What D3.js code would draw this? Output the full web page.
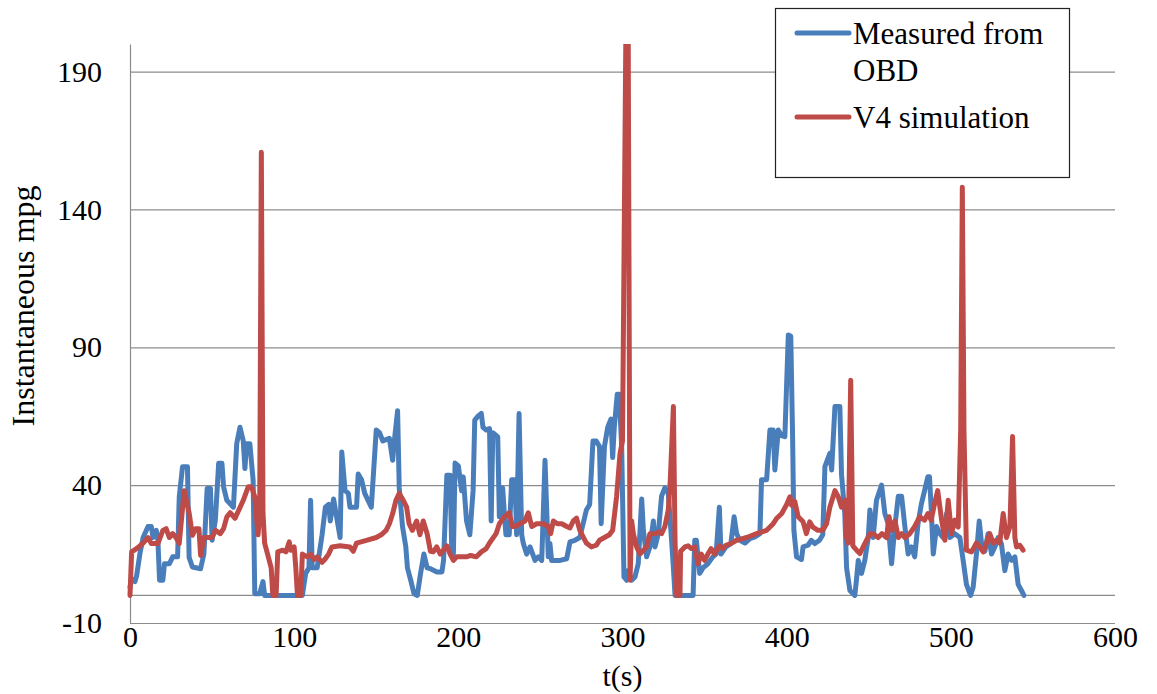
<!DOCTYPE html>
<html>
<head>
<meta charset="utf-8">
<script src="https://cdn.jsdelivr.net/npm/d3@7"></script>
<style>
  body { margin: 0; background: #fff; }
  svg text { font-family: "Liberation Serif", Tinos, "Times New Roman", "DejaVu Serif", serif; fill: #000; }
</style>
</head>
<body>
<div id="chart"></div>
<script>
// instantaneous mpg: OBD measurement vs V4 simulation

const obdTime = [0, 1, 3, 4, 6, 8, 11, 13, 14, 16, 17, 18, 20, 21, 24, 26, 29, 30, 32, 35, 36, 38, 43, 45, 47, 49, 50, 52, 54, 56, 57, 59, 63, 65, 67, 69, 70, 71, 73, 75, 76, 79, 81, 82, 105, 107, 109, 110, 111, 114, 117, 119, 121, 122, 124, 126, 128, 129, 131, 133, 134, 138, 139, 141, 143, 145, 147, 150, 152, 154, 156, 158, 160, 161, 163, 164, 166, 168, 169, 171, 173, 175, 177, 179, 181, 183, 187, 190, 191, 193, 195, 196, 197, 198, 200, 202, 203, 205, 207, 209, 210, 212, 214, 215, 217, 219, 220, 221, 223, 224, 225, 227, 228, 229, 231, 232.5, 234.5, 235.5, 237, 238.6, 239.6, 241.6, 243.7, 246.7, 248.7, 250.8, 252.8, 254.8, 255.8, 256.8, 262, 266, 268, 271, 274, 276, 278, 280, 282, 284, 286, 287, 289, 291, 293, 294, 295, 296.8, 298, 299.5, 300.9, 302.5, 303.5, 305.6, 307.6, 309.6, 311.7, 312.7, 314.7, 316.7, 318.8, 319.8, 321.8, 323.8, 325.8, 327.9, 329.9, 331, 332, 343, 344, 345, 347, 349, 352, 355, 357, 359, 360, 363, 366, 368, 369.5, 371.5, 374.6, 377.6, 380.7, 383.7, 384.7, 387.8, 389.8, 391.8, 392.8, 394.9, 396.9, 398.9, 401, 402.5, 403.6, 404.4, 406, 409, 410, 413, 415, 417, 420, 422, 423.3, 426.3, 427.4, 429.4, 432.4, 433.4, 435.4, 436.5, 438.5, 441.5, 442.5, 443.6, 445.6, 447.6, 449.7, 450.7, 452.7, 454.7, 457.8, 459.8, 461.8, 463.9, 465.9, 468, 470, 472, 474, 476, 478, 480, 482, 484, 486, 487, 488, 489.3, 491.3, 493.3, 495.3, 497.4, 499.4, 502.4, 505.5, 507.5, 509.5, 512, 513.6, 515.6, 517.3, 518.7, 520.7, 522.7, 524.8, 526.8, 528.8, 530.8, 532.9, 534.9, 537, 539, 541, 543, 544.5];
const obdMpg = [3, 6, 5, 7, 15, 21, 25, 25, 21, 23.6, 20, 5.5, 5.5, 11.5, 11.5, 14, 14, 35.8, 46.7, 46.7, 13.8, 10.3, 9.7, 15, 38.8, 38.8, 20, 27.3, 47.9, 47.9, 39.4, 34.5, 32, 55, 61, 56, 46, 55, 55, 41.8, 0.6, 0.6, 5, 0, 0, 8, 10, 34.5, 10, 10, 22, 32, 33, 27, 35, 28, 21, 52, 38, 37, 32, 32, 44, 42, 37, 34.5, 32, 60, 59, 56, 56.5, 57, 49, 56, 67, 39, 25, 17.6, 10, 5.5, 0.6, 0, 8, 15, 10, 9.7, 8.5, 8.5, 12.7, 43.6, 43.6, 16, 15, 48, 47, 38, 43, 27, 22, 38, 63.6, 65, 66, 61, 60, 60.5, 27, 59, 58, 57.5, 28.5, 39, 30, 22, 22, 42, 42, 22, 66, 22, 18.8, 15, 17.6, 12.7, 14, 12.7, 49, 14, 18.8, 12.7, 12.7, 13.3, 19.4, 20, 21, 26, 31, 33, 56, 56, 54, 26, 54, 61, 64, 50, 61, 73, 73, 54, 6.7, 5.5, 9, 5.5, 6.7, 11.5, 35, 23.6, 14, 17.6, 27, 17.6, 22.4, 36, 39, 37, 20, 10, 0, 0, 20, 20, 8, 10, 11.5, 14, 15, 32, 15, 17.6, 18.8, 28.5, 22.4, 20, 19, 20.6, 21.2, 22.4, 42, 42, 60, 60, 45.5, 60, 58, 57.6, 94.5, 94, 58, 23.6, 14, 13, 17.6, 18.2, 20, 18.8, 20, 22, 46.7, 51.5, 45.5, 68.5, 68.5, 44, 29.7, 10, 1.8, 0, 5.5, 12.7, 8, 12.7, 21, 31, 21, 34.5, 40, 29.7, 26, 11.5, 25, 36, 36, 25, 15, 17.6, 14, 26, 33, 38, 43, 43, 32, 15, 25, 22.4, 21, 29.7, 21, 22.4, 21, 12.7, 4, 0, 3, 15, 27, 18.8, 16, 22.4, 15, 17.6, 21, 18.8, 9, 15, 12.7, 14, 4, 1.8, 0];

const simTime = [0, 1, 4, 8, 11, 13, 17, 20, 22, 24, 26, 28, 30, 33, 36, 38, 40, 42, 43, 45, 50, 52, 55, 57, 59, 61, 64, 69, 72, 74, 76, 78, 79, 80, 81, 82, 84, 86, 87, 89, 90, 93, 95, 97, 98, 100, 101, 102, 104, 105, 108, 110, 112, 114, 117, 119, 121, 123, 128, 134, 136, 138, 144, 150, 153, 156, 158, 160, 162, 164, 166, 168.5, 170, 172, 174.6, 176.6, 178.6, 181, 183, 184.7, 186.8, 189, 191, 193, 195, 197, 199, 203, 205, 207.5, 211, 214, 217, 219, 223, 225, 228, 231, 233, 234.5, 237.6, 240.6, 242.6, 244.7, 247.7, 251.8, 254.8, 256.2, 257.9, 260.3, 263, 266, 268, 270, 272, 274, 278, 281, 284, 286, 289, 292, 294, 296.4, 298.5, 300, 302, 303.5, 304.6, 305.6, 306.6, 308.6, 310.6, 312.7, 314.7, 316.7, 320, 322, 323.8, 325.8, 327.9, 329, 331, 332, 333, 335, 335.4, 338, 340, 342, 344, 346, 348, 350, 352, 354, 356, 359, 361, 363, 366, 369.5, 375.6, 381.7, 387.8, 391.8, 394, 397, 400, 402, 403, 405, 407, 410, 412, 414, 416, 419, 422, 424.3, 426.3, 429.4, 431.4, 433.4, 435.5, 436.5, 437.5, 439, 440.3, 442.6, 444.6, 446.6, 448.6, 450.7, 452.7, 455.7, 458, 460.8, 462.4, 463.9, 466, 468, 470, 472, 475, 478, 481, 484, 486, 488, 490, 492, 494.4, 496.4, 498.4, 500.4, 502.4, 504.5, 506, 507, 508, 509.5, 512.6, 515.6, 517.6, 519.7, 521.7, 523.7, 525.8, 527.8, 529.8, 531.9, 533.9, 536, 537.6, 539, 540, 542, 544];
const simMpg = [0, 15.8, 17, 19, 21, 18.8, 18.8, 23.6, 24.2, 21, 22.4, 21, 18.8, 38, 30, 21.8, 24.2, 24.2, 14.5, 21, 21, 23.6, 22.4, 24.2, 28.5, 30, 28, 34.5, 39.4, 39.4, 35.8, 22, 30, 160.7, 30, 19, 14.5, 10, 0, 0, 15.8, 16.4, 15.8, 19.4, 16.4, 17.6, 10, 0, 0, 15, 14, 15, 13, 14, 12, 13.3, 15, 17.6, 18, 17.6, 16, 19, 20, 21, 22, 23.6, 26, 29.7, 34.5, 37, 35, 32, 26, 23.6, 27, 22, 27, 22.4, 16, 15.8, 17.6, 15, 16.4, 18, 15, 12.7, 14, 14, 14, 14.5, 14, 15.8, 17, 19, 22.4, 26, 28.5, 30, 25, 25, 26, 27, 30, 25, 26, 26, 25, 22.4, 27, 26, 26, 25, 24.5, 27, 28, 23.6, 19, 17.6, 18.2, 20, 21, 22, 23.6, 35.8, 51.5, 56, 200, 200, 5.5, 27, 22.4, 17.6, 15, 16.4, 17.6, 22.4, 22.4, 23, 22.4, 25, 31, 40.6, 68.5, 20, 0, 0, 16, 17.6, 18, 17, 17.6, 11.5, 15, 12.7, 15, 17, 15, 18, 17, 18.2, 18.8, 20, 21, 22.4, 23.6, 26, 28, 29.7, 33, 35.8, 32.7, 34, 28.5, 26.7, 22.4, 26.7, 24.8, 23.6, 23.6, 26, 32, 38, 35.8, 32, 34.5, 21, 19, 78, 18, 16.4, 15.2, 17.6, 20, 22.4, 22.4, 21, 22.4, 21, 28.5, 23.6, 27, 21, 22.4, 21, 22.4, 25, 28.5, 27.3, 29.7, 27.3, 33, 38, 27.3, 20, 34.5, 22.4, 27.3, 24.8, 60, 148, 60, 16.4, 15.8, 19, 17.6, 15.8, 19, 22.4, 19, 20, 19, 29.7, 21, 25, 57.6, 21, 17.6, 18.2, 16.4];

const xTicks = [0, 100, 200, 300, 400, 500, 600];
const yTicks = [-10, 40, 90, 140, 190];
const seriesNames = ["Measured from OBD", "V4 simulation"];
const seriesColors = ["#4a7ebb", "#be4b48"];

const serif = '"Liberation Serif", Tinos, "Times New Roman", "DejaVu Serif", serif';

const W = 1157, H = 694;
const plotLeft = 130, plotRight = 1115, plotTop = 44, plotBottom = 623;

const svg = d3.select("#chart").append("svg")
  .attr("width", W)
  .attr("height", H);

const x = d3.scaleLinear().domain([0, 600]).range([plotLeft, plotRight]);
const y = d3.scaleLinear().domain([-10, 200]).range([plotBottom, plotTop]);

// gridlines
svg.append("g")
  .attr("transform", `translate(${plotLeft},0)`)
  .call(d3.axisLeft(y).tickValues(yTicks).tickSize(-(plotRight - plotLeft)).tickFormat(""))
  .call(g => g.select(".domain").remove())
  .call(g => g.selectAll(".tick line").attr("stroke", "#8c8c8c").attr("stroke-width", 1.2));

// horizontal axis crosses at 0
svg.append("line")
  .attr("x1", x(0)).attr("x2", x(600))
  .attr("y1", y(0)).attr("y2", y(0))
  .attr("stroke", "#8c8c8c").attr("stroke-width", 1.2);

// y axis
svg.append("g")
  .attr("transform", `translate(${plotLeft},0)`)
  .attr("font-family", serif)
  .call(d3.axisLeft(y).tickValues(yTicks).tickSize(0).tickPadding(28).tickFormat(d => String(d)))
  .call(g => g.select(".domain").attr("stroke", "#8c8c8c").attr("stroke-width", 1.2))
  .call(g => g.selectAll("text").attr("font-size", 30).attr("fill", "#000"));

// x axis labels sit at the bottom of the plot
svg.append("g")
  .attr("transform", `translate(0,${plotBottom})`)
  .attr("font-family", serif)
  .call(d3.axisBottom(x).tickValues(xTicks).tickSize(0).tickPadding(3).tickFormat(d => String(d)))
  .call(g => g.select(".domain").remove())
  .call(g => g.selectAll("text").attr("font-size", 30).attr("fill", "#000"));

svg.append("defs").append("clipPath").attr("id", "plotclip")
  .append("rect")
  .attr("x", plotLeft - 5).attr("y", plotTop)
  .attr("width", plotRight - plotLeft + 10).attr("height", plotBottom - plotTop);

const line = d3.line()
  .x(d => x(d[0]))
  .y(d => y(d[1]));

const series = [
  d3.zip(obdTime, obdMpg),
  d3.zip(simTime, simMpg)
];

const lines = svg.append("g").attr("clip-path", "url(#plotclip)");
series.forEach((s, i) => {
  lines.append("path")
    .datum(s)
    .attr("fill", "none")
    .attr("stroke", seriesColors[i])
    .attr("stroke-width", 5)
    .attr("stroke-linejoin", "round")
    .attr("stroke-linecap", "round")
    .attr("d", line);
});

// axis titles
svg.append("text")
  .attr("x", x(300))
  .attr("y", 686)
  .attr("text-anchor", "middle")
  .attr("font-family", serif)
  .attr("font-size", 30)
  .text("t(s)");

svg.append("text")
  .attr("transform", "translate(34,306) rotate(-90)")
  .attr("text-anchor", "middle")
  .attr("font-family", serif)
  .attr("font-size", 32)
  .text("Instantaneous mpg");

// legend
const legend = svg.append("g").attr("font-family", serif);
legend.append("rect")
  .attr("x", 775.5).attr("y", 8.5)
  .attr("width", 294).attr("height", 169)
  .attr("fill", "#fff")
  .attr("stroke", "#222")
  .attr("stroke-width", 1.2);

const legendRows = [
  { lines: ["Measured from", "OBD"], y: 33 },
  { lines: ["V4 simulation"], y: 117 }
];
legendRows.forEach((r, i) => {
  legend.append("line")
    .attr("x1", 797).attr("x2", 849)
    .attr("y1", r.y).attr("y2", r.y)
    .attr("stroke", seriesColors[i])
    .attr("stroke-width", 5)
    .attr("stroke-linecap", "round");
  r.lines.forEach((t, j) => {
    legend.append("text")
      .attr("x", 853)
      .attr("y", r.y + 11 + j * 37)
      .attr("font-size", 31)
      .text(t);
  });
});
</script>
</body>
</html>
